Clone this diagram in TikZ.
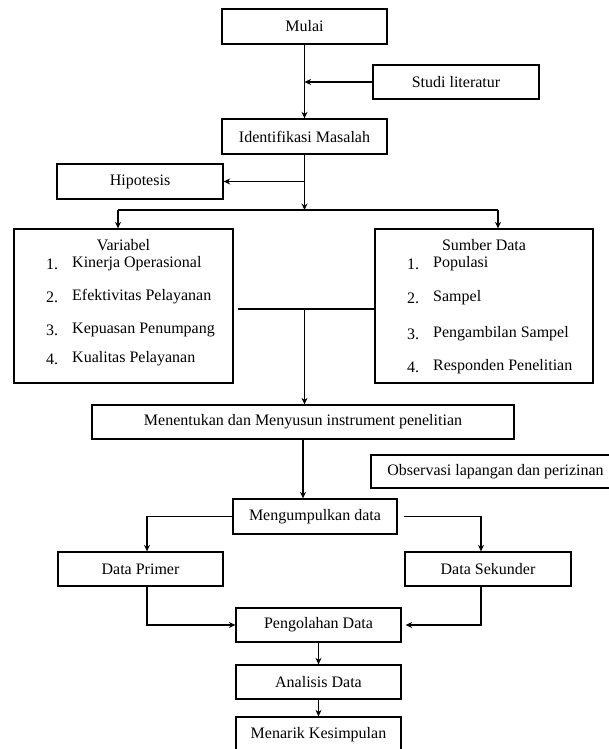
\documentclass[tikz,border=0pt]{standalone}
\usepackage{fontspec}
\setmainfont{Liberation Serif}
\usetikzlibrary{arrows.meta}
\tikzset{
  box/.style={draw, line width=1.3pt, minimum height=34pt, inner sep=0pt, font=\fontsize{16}{19}\selectfont},
  flow/.style={line width=1.3pt, -{Stealth[length=6.5pt,width=6pt]}},
  link/.style={line width=1.3pt},
  item/.style={anchor=west, inner sep=0pt, font=\fontsize{16}{19}\selectfont},
}
\begin{document}
\begin{tikzpicture}[x=1pt,y=-1pt]
\useasboundingbox (0,0) rectangle (608,749);
\node[box,minimum width=165pt,minimum height=35pt] (mulai) at (304.5,26.5) {Mulai};
\node[box,minimum width=166pt] (studi) at (456,82) {Studi literatur};
\node[box,minimum width=165pt,minimum height=35pt] (ident) at (304.5,136.5) {Identifikasi Masalah};
\node[box,minimum width=166pt,minimum height=35pt] (hipo) at (140,181.5) {Hipotesis};
\node[box,minimum width=219pt,minimum height=154pt] (var) at (123.5,306) {};
\node[box,minimum width=218pt,minimum height=154pt] (sumber) at (484,306) {};
% isi kotak variabel
\node[item,anchor=center] (vartitle) at (123.5,245) {Variabel};
\foreach \n/\y/\t in {1/264/Kinerja Operasional,2/297/Efektivitas Pelayanan,3/330/Kepuasan Penumpang,4/359/Kualitas Pelayanan}{
  \node[item] (varno\n) at (46,\y) {\n.};
  \node[item] (var\n) at (72,\y) {\t};
}
% isi kotak sumber data
\node[item,anchor=center] (sumbertitle) at (484,245) {Sumber Data};
\foreach \n/\y/\t in {1/264/Populasi,2/298/Sampel,3/334/Pengambilan Sampel,4/367/Responden Penelitian}{
  \node[item] (sumberno\n) at (407,\y) {\n.};
  \node[item] (sumber\n) at (433,\y) {\t};
}
\node[box,minimum width=422pt] (menentukan) at (303,422) {Menentukan dan Menyusun instrument penelitian};
\node[box,minimum width=249pt,minimum height=33pt] (observasi) at (495.5,471.5) {Observasi lapangan dan perizinan};
\node[box,minimum width=164pt,minimum height=35pt] (kumpul) at (315,516.5) {Mengumpulkan data};
\node[box,minimum width=165pt] (primer) at (140.5,569) {Data Primer};
\node[box,minimum width=166pt] (sekunder) at (488,569) {Data Sekunder};
\node[box,minimum width=165pt] (olah) at (318.5,625) {Pengolahan Data};
\node[box,minimum width=165pt] (analisis) at (318.5,682) {Analisis Data};
\node[box,minimum width=165pt,minimum height=35pt] (menarik) at (318.5,734.5) {Menarik Kesimpulan};
% alur
\coordinate (split) at (304.5,210);
\coordinate (splitL) at (118,210);
\coordinate (splitR) at (498,210);
\coordinate (join) at (304.5,309);
\draw[flow] (mulai) -- (ident);
\draw[flow] (studi.west) -- (studi.west -| mulai.south);
\draw[flow] (ident.south) -- (split);
\draw[flow] (ident.south |- hipo.east) -- (hipo.east);
\draw[link] (splitL) -- (splitR);
\draw[flow] (splitL) -- (splitL |- var.north);
\draw[flow] (splitR) -- (splitR |- sumber.north);
\draw[link] ([xshift=4pt]var.east |- join) -- (sumber.west |- join);
\draw[flow] (join) -- (join |- menentukan.north);
\draw[flow] (menentukan.south) -- (menentukan.south |- kumpul.north);
\draw[flow] (kumpul.west) -| ([xshift=6.5pt]primer.north);
\draw[flow] ([xshift=6pt]kumpul.east) -| ([xshift=-7pt]sekunder.north);
\draw[flow] ([xshift=6.5pt]primer.south) |- (olah.west);
\draw[flow] ([xshift=-7pt]sekunder.south) |- ([xshift=4pt]olah.east);
\draw[flow] (olah) -- (analisis);
\draw[flow] (analisis) -- (menarik);
\end{tikzpicture}
\end{document}
